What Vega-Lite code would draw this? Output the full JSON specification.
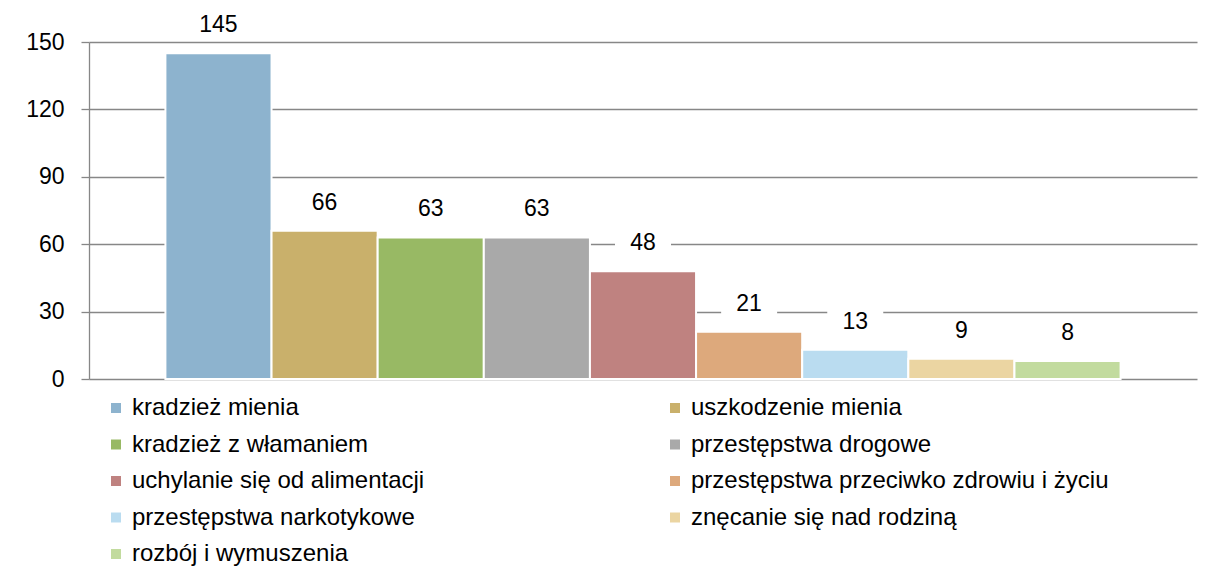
{
  "$schema": "https://vega.github.io/schema/vega-lite/v6.json",
  "width": 1108,
  "height": 337,
  "autosize": "none",
  "padding": {"left": 89, "top": 42, "right": 9, "bottom": 193},
  "background": "white",
  "config": {
    "view": {"stroke": null},
    "font": "Liberation Sans"
  },
  "data": {
    "values": [
      {"kategoria": "kradzież mienia", "liczba": 145},
      {"kategoria": "uszkodzenie mienia", "liczba": 66},
      {"kategoria": "kradzież z włamaniem", "liczba": 63},
      {"kategoria": "przestępstwa drogowe", "liczba": 63},
      {"kategoria": "uchylanie się od alimentacji", "liczba": 48},
      {"kategoria": "przestępstwa przeciwko zdrowiu i życiu", "liczba": 21},
      {"kategoria": "przestępstwa narkotykowe", "liczba": 13},
      {"kategoria": "znęcanie się nad rodziną", "liczba": 9},
      {"kategoria": "rozbój i wymuszenia", "liczba": 8}
    ]
  },
  "encoding": {
    "x": {
      "field": "kategoria",
      "type": "nominal",
      "sort": null,
      "axis": null,
      "scale": {"paddingInner": 0, "paddingOuter": 0.72}
    },
    "y": {
      "field": "liczba",
      "type": "quantitative",
      "scale": {"domain": [0, 150], "nice": false},
      "axis": {
        "title": null,
        "values": [0, 30, 60, 90, 120, 150],
        "grid": true,
        "gridColor": "#878787",
        "gridWidth": 1.3,
        "tickColor": "#878787",
        "tickWidth": 1.3,
        "tickSize": 8,
        "domainColor": "#878787",
        "domainWidth": 1.3,
        "labelFontSize": 23,
        "labelColor": "#000000",
        "labelPadding": 17,
        "labelFont": "Liberation Sans"
      }
    }
  },
  "layer": [
    {
      "mark": {"type": "bar", "stroke": "white", "strokeWidth": 2},
      "encoding": {
        "color": {
          "field": "kategoria",
          "type": "nominal",
          "sort": null,
          "scale": {
            "domain": ["kradzież mienia", "uszkodzenie mienia", "kradzież z włamaniem", "przestępstwa drogowe", "uchylanie się od alimentacji", "przestępstwa przeciwko zdrowiu i życiu", "przestępstwa narkotykowe", "znęcanie się nad rodziną", "rozbój i wymuszenia"],
            "range": ["#8DB3CE", "#C9B06B", "#98B964", "#A9A9A9", "#BF8280", "#DDA97C", "#BADCF0", "#EBD5A2", "#C2DB9E"]
          },
          "legend": {
            "title": null,
            "orient": "none",
            "legendX": 15,
            "legendY": 354,
            "columns": 2,
            "direction": "horizontal",
            "symbolType": "square",
            "symbolSize": 100,
            "symbolStrokeWidth": 0,
            "labelFontSize": 24,
            "labelFont": "Liberation Sans",
            "labelColor": "#000000",
            "labelOffset": 4,
            "labelLimit": 800,
            "rowPadding": 12.5,
            "columnPadding": 238,
            "padding": 0
          }
        }
      }
    },
    {
      "mark": {"type": "bar", "fill": "white", "width": 56, "yOffset": -42, "y2Offset": -14},
      "encoding": {
        "y2": {"field": "liczba"}
      }
    },
    {
      "mark": {"type": "text", "dy": -28, "baseline": "middle", "fontSize": 23, "font": "Liberation Sans", "color": "#000000"},
      "encoding": {
        "text": {"field": "liczba", "type": "quantitative"}
      }
    }
  ]
}
